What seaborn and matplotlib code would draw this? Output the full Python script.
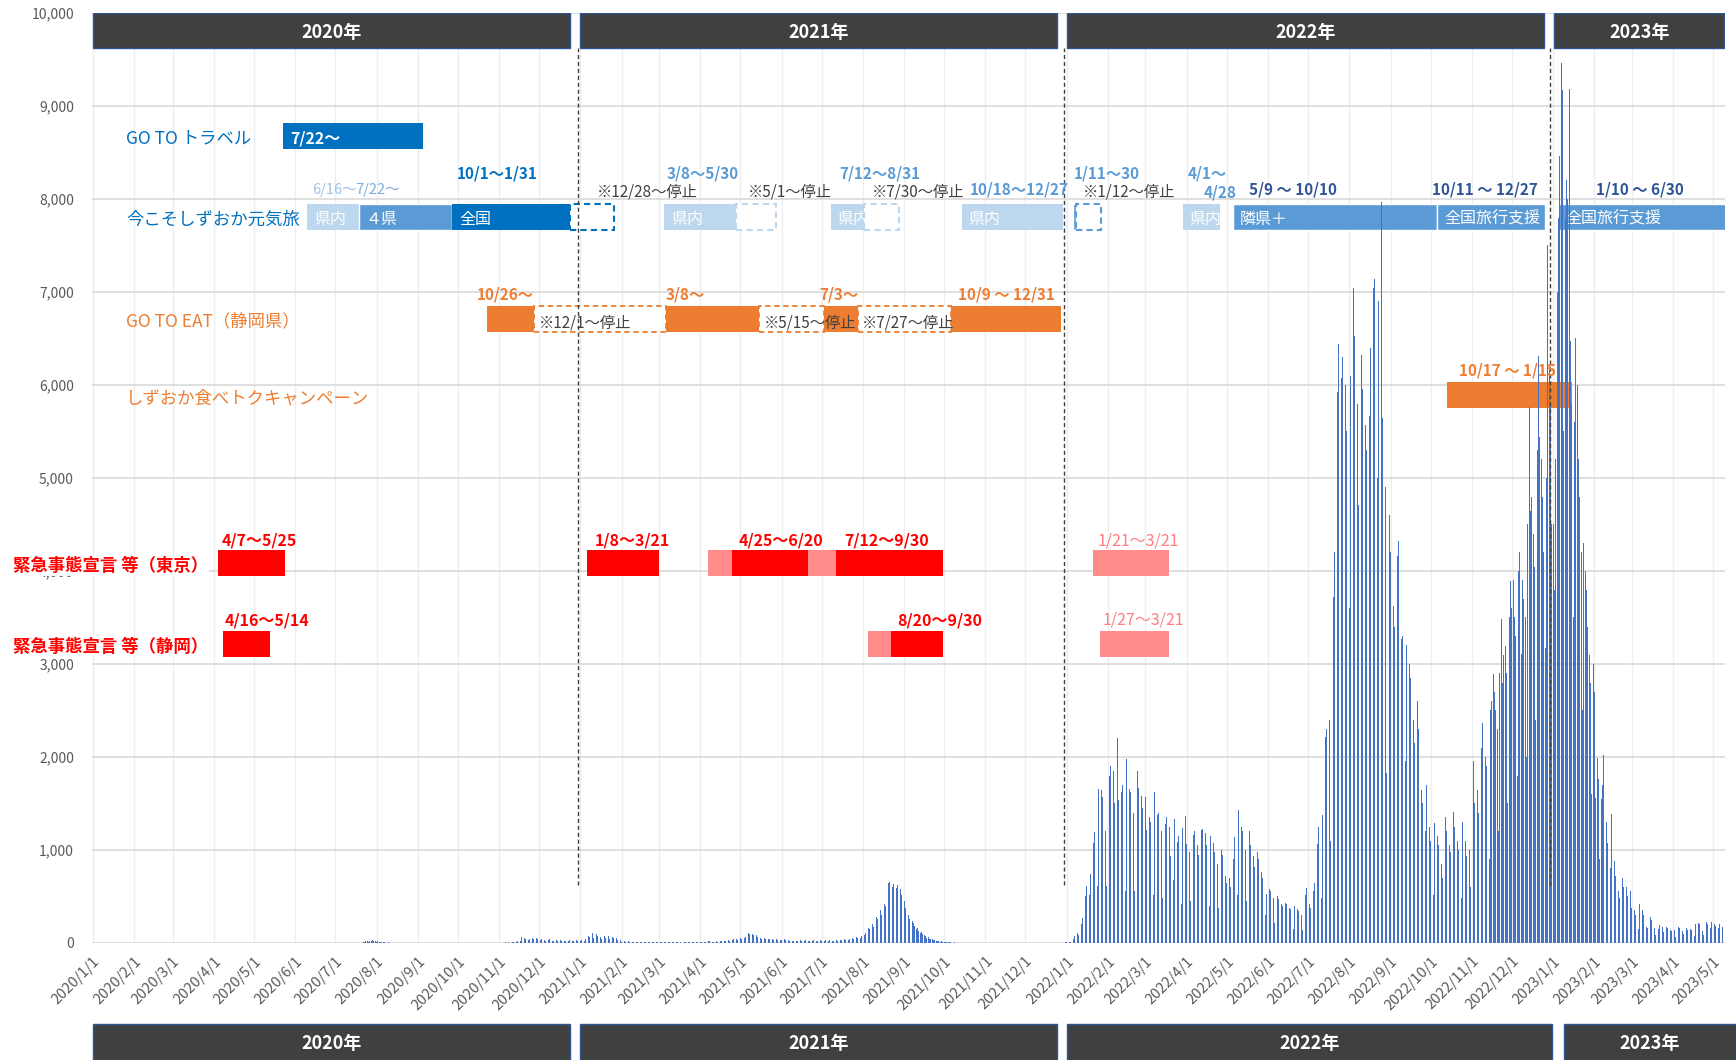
import matplotlib
matplotlib.use("Agg")
import matplotlib.pyplot as plt
import matplotlib.dates as mdates
from matplotlib.ticker import FuncFormatter
import seaborn as sns
import pandas as pd

# daily new cases; each list starts on its start date
case_start_2020 = "2020-07-20"
cases_2020 = [
    3, 5, 8, 15, 22, 18, 10, 25, 20, 28, 24, 18,
    15, 20, 12, 8, 10, 6, 9, 5, 4, 6, 3, 5, 2, 4, 3, 1, 2, 3, 1, 2, 0, 1, 2, 1, 0, 1, 0, 2, 1, 0, 1,
    1, 0, 2, 1, 0, 0, 1, 3, 1, 0, 2, 1, 0, 0, 1, 2, 1, 0, 0, 1, 0, 1, 0, 2, 1, 0, 0, 1, 2, 1,
    1, 2, 0, 1, 3, 1, 0, 2, 1, 4, 2, 0, 1, 3, 2, 1, 0, 2, 3, 1, 0, 2, 4, 3, 1, 2, 5, 3, 2, 4, 3,
    2, 4, 3, 1, 5, 8, 12, 6, 3, 9, 14, 7, 5, 10, 18, 8, 20, 62, 48, 55, 40, 52, 30, 45, 58, 50, 42, 38, 55, 47,
    40, 35, 42, 30, 28, 25, 18, 32, 38, 30, 26, 22, 35, 28, 20, 24, 30, 26, 22, 18, 25, 28, 20, 32, 26, 18, 22, 35, 30, 24, 28,
]
case_start_2021 = "2021-01-01"
cases_2021 = [
    20, 30, 35, 25, 45, 60, 75, 68, 90, 105, 55, 80, 95, 70, 88, 62, 40, 58, 70, 50, 65, 72, 45, 38, 60, 55, 42, 50, 35, 30, 28,
    15, 22, 18, 12, 20, 16, 10, 8, 14, 12, 18, 9, 6, 11, 15, 10, 8, 12, 7, 9, 13, 6, 10, 8, 12, 9, 7, 11,
    8, 12, 6, 10, 14, 9, 5, 11, 8, 15, 7, 10, 12, 6, 9, 13, 8, 5, 10, 12, 7, 9, 14, 11, 6, 10, 8, 12, 15, 9, 11,
    10, 14, 18, 12, 9, 15, 20, 16, 22, 14, 12, 25, 18, 15, 28, 22, 20, 30, 24, 18, 32, 28, 25, 35, 30, 40, 38, 45, 30, 42,
    50, 45, 60, 55, 65, 80, 110, 95, 70, 100, 85, 75, 90, 60, 70, 55, 48, 62, 50, 45, 52, 40, 38, 48, 42, 35, 45, 38, 30, 40, 36,
    35, 30, 38, 28, 25, 32, 22, 30, 26, 20, 28, 24, 18, 26, 30, 22, 20, 25, 28, 18, 22, 26, 20, 24, 30, 22, 18, 25, 20, 28,
    22, 25, 18, 28, 20, 24, 30, 26, 22, 18, 28, 32, 25, 30, 35, 28, 24, 38, 30, 42, 36, 45, 40, 50, 48, 55, 60, 52, 65, 58, 70,
    75, 90, 110, 130, 160, 145, 185, 200, 170, 230, 280, 260, 310, 350, 300, 380, 420, 400, 520, 650, 660, 540, 600, 630, 560, 590, 620, 500, 580, 520, 470,
    450, 380, 350, 300, 260, 200, 240, 210, 180, 150, 160, 130, 110, 120, 100, 85, 70, 55, 60, 45, 40, 38, 30, 28, 25, 20, 22, 15, 18, 12,
    12, 10, 8, 9, 6, 7, 5, 4, 6, 3, 4, 5, 2, 3, 4, 2, 1, 3, 2, 1, 2, 1, 0, 1, 2, 1, 0, 1, 1, 0, 1,
    0, 1, 0, 1, 2, 0, 1, 0, 0, 1, 1, 0, 2, 1, 0, 0, 1, 0, 1, 0, 0, 1, 0, 2, 1, 0, 1, 0, 0, 1,
    1, 0, 0, 1, 0, 2, 1, 0, 1, 0, 1, 0, 0, 2, 1, 0, 1, 0, 0, 1, 2, 1, 0, 1, 3, 2, 1, 4, 2, 5, 6,
]
case_start_2022 = "2022-01-01"
cases_2022 = [
    8, 10, 12, 15, 20, 45, 80, 130, 110, 90, 160, 200, 265, 425, 500, 610, 450, 520, 740, 900, 1080, 1190, 1240, 610, 1660, 1510, 1640, 1570, 1590, 1200, 610,
    1980, 1800, 1900, 1620, 1850, 1500, 700, 2200, 1540, 1750, 1620, 1700, 1300, 560, 1980, 1600, 1660, 1620, 1550, 1400, 560, 1900, 1850, 1670, 1500, 1580, 1450, 450,
    1570, 1220, 1400, 1350, 1300, 1100, 520, 1620, 1500, 1380, 1400, 1450, 1200, 480, 1620, 1280, 1350, 1190, 1250, 930, 480, 680, 1330, 1190, 1090, 1150, 1050, 420, 1240, 1100, 1360,
    1060, 1150, 980, 450, 1190, 1160, 1200, 1100, 1050, 950, 420, 1220, 1230, 1120, 1180, 1050, 900, 400, 1150, 1150, 1080, 980, 930, 850, 380, 1000, 1000, 950, 880, 720,
    650, 380, 700, 600, 550, 900, 1140, 1300, 520, 1430, 1380, 1250, 1200, 1150, 1000, 450, 1350, 1200, 1050, 980, 930, 820, 380, 980, 900, 820, 760, 700, 660, 300, 530,
    610, 580, 560, 530, 480, 220, 540, 500, 470, 450, 420, 400, 180, 430, 420, 380, 375, 360, 320, 150, 400, 380, 360, 340, 330, 300, 140, 380, 520, 590,
    280, 420, 380, 200, 560, 650, 870, 1060, 1250, 1100, 480, 1380, 1860, 2210, 2300, 2690, 2400, 1100, 1450, 3720, 4200, 4740, 5920, 6440, 1540, 6070, 6300, 5800, 6000, 5500, 4900,
    3600, 6100, 7330, 7045, 6530, 6280, 5800, 4710, 5900, 6320, 5960, 6200, 5570, 5300, 4080, 5670, 6400, 7180, 7040, 7140, 7150, 5000, 6900, 7300, 7970, 5640, 5220, 4900, 1830, 5250, 4600,
    4200, 3900, 3620, 3400, 2100, 4160, 4320, 3720, 3270, 3300, 3170, 1960, 3200, 3490, 3000, 2850, 1930, 2400, 2150, 1300, 2600, 2300, 2500, 1640, 1500, 1450, 1200, 1700, 1380, 1250,
    1100, 1000, 520, 1290, 800, 1150, 1050, 900, 850, 700, 230, 1350, 1200, 1100, 1050, 980, 520, 1410, 1250, 1150, 1100, 1000, 900, 480, 1300, 1200, 1100, 930, 1050, 1000, 600,
    1300, 1960, 1500, 1700, 1650, 1400, 800, 2100, 2370, 2200, 2000, 1900, 1700, 900, 2500, 2600, 2890, 2700, 2500, 2300, 1200, 2900, 3480, 2800, 3100, 3190, 2900, 1500, 3500, 3890,
    3600, 3900, 3500, 3300, 1800, 4000, 4200, 3110, 3900, 3700, 3500, 2000, 4500, 5760, 4640, 4800, 4400, 4040, 2400, 5300, 6310, 5440, 5200, 4800, 4200, 3170, 5000, 7500, 6200, 5800, 4500,
]
case_start_2023 = "2023-01-01"
cases_2023 = [
    4500, 3800, 5200, 7000, 7800, 8460, 9460, 9170, 5500, 7800, 8200, 8000, 9180, 6470, 5800, 3500, 5600, 6500, 6000, 5200, 4800, 4200, 2500, 4300, 4000, 3800, 3400, 3100, 2800, 1600, 3000,
    2700, 1560, 1990, 1760, 900, 1550, 1700, 2020, 1490, 1300, 1080, 900, 810, 1390, 1200, 880, 720, 650, 560, 480, 900, 700, 600, 535, 600, 500, 320, 555,
    375, 420, 350, 300, 285, 150, 420, 390, 350, 300, 250, 175, 160, 300, 280, 250, 200, 160, 85, 140, 150, 195, 180, 170, 120, 70, 175, 160, 150, 140, 130,
    110, 140, 60, 150, 175, 160, 150, 130, 100, 60, 160, 140, 170, 150, 140, 120, 80, 200, 230, 220, 200, 160, 130, 90, 220, 230, 200, 175, 160, 230,
    175, 200, 180, 150, 160, 200, 300, 175,
]

# year bands (top inside the plot, bottom under the axis)
years = ["2020年", "2021年", "2022年", "2023年"]
year_top_start = ["2020-01-01", "2021-01-01", "2022-01-01", "2023-01-02"]
year_top_end = ["2020-12-24", "2021-12-25", "2022-12-25", "2023-05-09"]
year_bot_start = ["2020-01-01", "2021-01-01", "2022-01-01", "2023-01-09"]
year_bot_end = ["2020-12-24", "2021-12-25", "2022-12-31", "2023-05-18"]
year_lines = ["2020-12-30", "2021-12-30", "2022-12-30"]

# measure rows
row_names = ["GO TO トラベル", "今こそしずおか元気旅", "GO TO EAT（静岡県）",
             "しずおか食べトクキャンペーン", "緊急事態宣言 等（東京）", "緊急事態宣言 等（静岡）"]
row_levels = [8680, 7810, 6710, 5890, 4085, 3215]
row_colors = ["#0070c0", "#0070c0", "#ed7d31", "#ed7d31", "#ff0000", "#ff0000"]

# period segments of each row
seg_row = [0,
           1, 1, 1, 1, 1, 1, 1, 1, 1, 1, 1, 1, 1, 1, 1,
           2, 2, 2, 2, 2, 2, 2,
           3,
           4, 4, 4, 4, 4, 4, 4,
           5, 5, 5, 5]
seg_start = ["2020-05-23",
             "2020-06-10", "2020-07-19", "2020-09-27", "2020-12-24", "2021-03-05", "2021-04-28",
             "2021-07-08", "2021-08-02", "2021-10-14", "2022-01-06", "2022-01-08", "2022-03-29",
             "2022-05-06", "2022-10-06", "2023-01-05",
             "2020-10-23", "2020-11-27", "2021-03-06", "2021-05-15", "2021-07-03", "2021-07-28", "2021-10-06",
             "2022-10-13",
             "2020-04-04", "2021-01-06", "2021-04-07", "2021-04-25", "2021-06-21", "2021-07-12", "2022-01-21",
             "2020-04-08", "2021-08-05", "2021-08-22", "2022-01-26"]
seg_end = ["2020-09-05",
           "2020-07-19", "2020-09-27", "2020-12-24", "2021-01-26", "2021-04-28", "2021-05-28",
           "2021-08-02", "2021-08-28", "2021-12-29", "2022-01-08", "2022-01-27", "2022-04-26",
           "2022-10-06", "2022-12-26", "2023-05-12",
           "2020-11-27", "2021-03-06", "2021-05-15", "2021-07-03", "2021-07-28", "2021-10-06", "2021-12-28",
           "2023-01-15",
           "2020-05-24", "2021-03-01", "2021-04-25", "2021-06-21", "2021-07-12", "2021-09-30", "2022-03-19",
           "2020-05-13", "2021-08-22", "2021-09-30", "2022-03-19"]
seg_kind = ["dark",
            "light", "mid", "dark", "dash_dark", "light", "dash_light",
            "light", "dash_light", "light", "mid", "dash_mid", "light",
            "mid", "mid", "mid",
            "orange", "dash_orange", "orange", "dash_orange", "orange", "dash_orange", "orange",
            "orange",
            "red", "red", "pink", "red", "pink", "red", "pink",
            "red", "pink", "red", "pink"]
seg_text = ["7/22～",
            "県内", "４県", "全国", "", "県内", "",
            "県内", "", "県内", "", "", "県内",
            "隣県＋", "全国旅行支援", "全国旅行支援",
            "", "", "", "", "", "", "",
            "",
            "", "", "", "", "", "", "",
            "", "", "", ""]

# period labels above the bars
note_text = ["6/16～", "7/22～", "10/1～1/31", "3/8～5/30", "7/12～8/31", "10/18～12/27",
             "1/11～30", "4/1～", "4/28", "5/9 ～ 10/10", "10/11 ～ 12/27", "1/10 ～ 6/30",
             "※12/28～停止", "※5/1～停止", "※7/30～停止", "※1/12～停止",
             "10/26～", "3/8～", "7/3～", "10/9 ～ 12/31",
             "※12/1～停止", "※5/15～停止", "※7/27～停止",
             "10/17 ～ 1/15",
             "4/7～5/25", "1/8～3/21", "4/25～6/20", "7/12～9/30", "1/21～3/21",
             "4/16～5/14", "8/20～9/30", "1/27～3/21"]
note_x = ["2020-06-14", "2020-07-16", "2020-09-30", "2021-03-07", "2021-07-14", "2021-10-20",
          "2022-01-06", "2022-04-02", "2022-04-14", "2022-05-18", "2022-10-02", "2023-02-02",
          "2021-01-13", "2021-05-07", "2021-08-08", "2022-01-13",
          "2020-10-15", "2021-03-06", "2021-06-29", "2021-10-11",
          "2020-12-01", "2021-05-19", "2021-07-31",
          "2022-10-22",
          "2020-04-07", "2021-01-12", "2021-04-30", "2021-07-18", "2022-01-24",
          "2020-04-09", "2021-08-27", "2022-01-28"]
note_y = [8100, 8100, 8270, 8270, 8270, 8100,
          8270, 8270, 8070, 8100, 8100, 8100,
          8070, 8070, 8070, 8070,
          6970, 6970, 6970, 6970,
          6670, 6670, 6670,
          6150,
          4325, 4325, 4325, 4325, 4325,
          3468, 3468, 3468]
note_kind = ["pale", "light", "dark", "mid", "mid", "mid",
             "mid", "mid", "mid", "navy", "navy", "navy",
             "stop", "stop", "stop", "stop",
             "orange", "orange", "orange", "orange",
             "stop", "stop", "stop",
             "orange",
             "red", "red", "red", "red", "pink",
             "red", "red", "pink"]

seg_style = {
    "dark": dict(color="#0070c0", edgecolor="#0070c0", linewidth=0),
    "mid": dict(color="#5b9bd5", edgecolor="white", linewidth=1),
    "light": dict(color="#bdd7ee", edgecolor="#bdd7ee", linewidth=0),
    "dash_dark": dict(color="white", edgecolor="#0070c0", linewidth=1.5, linestyle=(0, (3, 2))),
    "dash_mid": dict(color="white", edgecolor="#5b9bd5", linewidth=1.5, linestyle=(0, (3, 2))),
    "dash_light": dict(color="white", edgecolor="#bdd7ee", linewidth=1.5, linestyle=(0, (3, 2))),
    "orange": dict(color="#ed7d31", edgecolor="#ed7d31", linewidth=0),
    "dash_orange": dict(color="white", edgecolor="#ed7d31", linewidth=1.3, linestyle=(0, (3, 2))),
    "red": dict(color="#ff0000", edgecolor="#ff0000", linewidth=0),
    "pink": dict(color="#ff8b8b", edgecolor="#ff8b8b", linewidth=0),
}
note_style = {
    "pale": dict(color="#9dc3e6", fontsize=10.5),
    "light": dict(color="#7fabdc", fontsize=10.5),
    "dark": dict(color="#0070c0", fontsize=11, fontweight="bold"),
    "mid": dict(color="#5b9bd5", fontsize=11, fontweight="bold"),
    "navy": dict(color="#2f5597", fontsize=11, fontweight="bold"),
    "stop": dict(color="#404040", fontsize=11),
    "orange": dict(color="#ed7d31", fontsize=11, fontweight="bold"),
    "red": dict(color="#ff0000", fontsize=11.5, fontweight="bold"),
    "pink": dict(color="#ff7c80", fontsize=11.5),
}


def dn(s):
    return mdates.date2num(pd.Timestamp(s))


parts = []
for start, vals in [(case_start_2020, cases_2020), (case_start_2021, cases_2021),
                    (case_start_2022, cases_2022), (case_start_2023, cases_2023)]:
    parts.append(pd.DataFrame({"date": pd.date_range(start, periods=len(vals), freq="D"),
                               "cases": vals}))
df = pd.concat(parts, ignore_index=True)
df["x"] = mdates.date2num(df["date"])

sns.set_style("white")
plt.rcParams["font.family"] = ["Noto Sans CJK JP", "DejaVu Sans"]

fig = plt.figure(figsize=(17.36, 10.6), dpi=100)
ax = fig.add_axes([0.053, 0.1104, 0.9407, 0.8774])

sns.barplot(data=df, x="x", y="cases", native_scale=True, width=0.55, color="#4472c4",
            saturation=1, errorbar=None, linewidth=0, ax=ax, zorder=2.5)

# measure bars
for r, s, e, k, t in zip(seg_row, seg_start, seg_end, seg_kind, seg_text):
    dashed = k.startswith("dash")
    ax.barh(row_levels[r], dn(e) - dn(s), left=dn(s), height=280,
            zorder=2.3 if dashed else 2.0, **seg_style[k])
    if t:
        ax.text(dn(s) + 5, row_levels[r] - 30, t, color="white", fontsize=11.5, va="center",
                ha="left", zorder=2.2, fontweight="bold" if r == 0 else "normal")

for name, lvl, c in zip(row_names, row_levels, row_colors):
    red = c == "#ff0000"
    ax.text(-0.0482 if red else 0.021, lvl - 30, name, transform=ax.get_yaxis_transform(),
            color=c, fontsize=12.5, fontweight="bold" if red else "normal",
            va="center", ha="left", zorder=5, clip_on=False,
            bbox=dict(facecolor="white", edgecolor="none", pad=0.5) if red else None)

for t, x, y, k in zip(note_text, note_x, note_y, note_kind):
    ax.text(dn(x), y, t, va="center", ha="left", zorder=4, **note_style[k])

# year bands
for name, s, e in zip(years, year_top_start, year_top_end):
    ax.barh(9810, dn(e) - dn(s), left=dn(s), height=380, color="#404040",
            edgecolor="#2f5597", linewidth=1, zorder=3)
    ax.text((dn(s) + dn(e)) / 2, 9790, name, color="white", fontsize=13,
            fontweight="bold", ha="center", va="center", zorder=4)
for name, s, e in zip(years, year_bot_start, year_bot_end):
    ax.axvspan(dn(s), dn(e), ymin=-0.126, ymax=-0.087, facecolor="#404040",
               edgecolor="#2f5597", linewidth=1, clip_on=False)
    ax.text((dn(s) + dn(e)) / 2, -0.108, name, transform=ax.get_xaxis_transform(),
            color="white", fontsize=13, fontweight="bold", ha="center", va="center",
            clip_on=False)

ax.vlines([dn(x) for x in year_lines], 620, 9620, colors="#404040",
          linestyles=(0, (3, 2)), linewidth=1, zorder=3.5)

# axes
ax.set_xlim(dn("2019-12-31 12:00"), dn("2023-05-10"))
ax.set_ylim(0, 10000)
ax.set_yticks(range(0, 10001, 1000))
ax.yaxis.set_major_formatter(FuncFormatter(lambda v, p: f"{int(v):,}"))
ax.xaxis.set_major_locator(mdates.MonthLocator())


def month_label(v, pos):
    t = mdates.num2date(v)
    return f"{t.year}/{t.month}/{t.day}"


ax.xaxis.set_major_formatter(FuncFormatter(month_label))
ax.set_axisbelow(True)
ax.grid(axis="y", color="#d9d9d9", linewidth=1.2)
ax.grid(axis="x", color="#eeeeee", linewidth=1)
for sp in ax.spines.values():
    sp.set_visible(False)
ax.tick_params(axis="y", length=0, pad=13, labelsize=10, labelcolor="#595959")
ax.tick_params(axis="x", length=5, color="#bfbfbf", labelsize=10.5, labelcolor="#595959",
               labelrotation=45, pad=3)
for lbl in ax.get_xticklabels():
    lbl.set_ha("right")
    lbl.set_rotation_mode("anchor")
ax.set_xlabel("")
ax.set_ylabel("")

fig.savefig("out.png", dpi=100)
